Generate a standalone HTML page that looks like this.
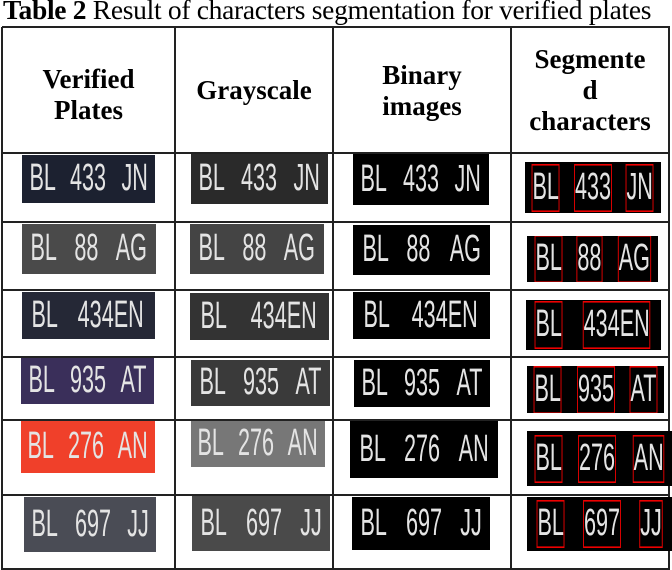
<!DOCTYPE html>
<html><head><meta charset="utf-8"><style>
body{margin:0;width:672px;height:570px;background:#fff;position:relative;overflow:hidden;font-family:"Liberation Serif",serif}
.t{position:absolute;left:3px;top:-6px;font-size:27.5px;white-space:nowrap;letter-spacing:-0.3px}
.v,.h{position:absolute;background:#222}
.v{width:2px;top:27px;height:543px}
.h{height:2px;left:2px;width:668px}
.hd{position:absolute;top:28px;height:125px;display:flex;align-items:center;justify-content:center;text-align:center;font-weight:bold;font-size:27px;line-height:31px;white-space:nowrap}
.p{position:absolute;overflow:hidden;color:#e4e4e4;font-family:"Liberation Sans Narrow","Liberation Sans",sans-serif;display:flex;align-items:center;justify-content:space-around;font-size:24px;font-weight:300}
.p span{display:inline-block;transform:scaleY(1.6) scaleX(0.9)}
</style></head><body>
<div class="t"><b>Table 2</b> Result of characters segmentation for verified plates</div>
<div class="v" style="left:1px"></div>
<div class="v" style="left:174px"></div>
<div class="v" style="left:332px"></div>
<div class="v" style="left:510px"></div>
<div class="v" style="left:668px"></div>
<div class="h" style="top:26px"></div>
<div class="h" style="top:152px"></div>
<div class="h" style="top:221px"></div>
<div class="h" style="top:289px"></div>
<div class="h" style="top:356px"></div>
<div class="h" style="top:419px"></div>
<div class="h" style="top:494px"></div>
<div class="h" style="top:568px"></div>
<div class="hd" style="left:3px;width:171px;padding-top:4px">Verified<br>Plates</div>
<div class="hd" style="left:176px;width:156px">Grayscale</div>
<div class="hd" style="left:334px;width:176px">Binary<br>images</div>
<div class="hd" style="left:512px;width:156px">Segmente<br>d<br>characters</div>
<script>
const labels=[["BL","433","JN"],["BL","88","AG"],["BL","434EN",""],["BL","935","AT"],["BL","276","AN"],["BL","697","JJ"]];
const boxes=[
[[22,155,155,203],[191,328,154,204],[353,489,154,205],[525,661,162,213]],
[[22,156,224,274],[190,324,224,274],[353,490,225,275],[527,658,236,282]],
[[22,155,292,339],[190,329,293,340],[353,490,292,339],[526,661,300,350]],
[[21,154,358,404],[191,330,360,406],[354,490,360,407],[527,664,366,413]],
[[21,155,421,473],[191,325,421,467],[350,498,421,478],[527,672,431,486]],
[[24,156,497,552],[192,330,496,551],[352,490,497,550],[527,672,497,551]]];
const verBg=["#1c2130","#4a4a4a","#252836","#3a2f5a","#f0402a","#4a4c55"];
const grayBg=["#2a2a2a","#444","#333","#3a3a3a","#777","#4a4a4a"];
labels.forEach((lab,r)=>{
  boxes[r].forEach((b,c)=>{
    const d=document.createElement('div');
    d.className='p';
    
    
    const bg=c==0?verBg[r]:c==1?grayBg[r]:'#000';
    d.style.cssText=`left:${b[0]}px;top:${b[2]}px;width:${b[1]-b[0]}px;height:${b[3]-b[2]}px;background:${bg}`;
    lab.filter(s=>s).forEach(s=>{
      const sp=document.createElement('span');
      sp.textContent=s;
      if(c==3){sp.style.outline='1px solid #e00';}
      d.appendChild(sp);
    });
    document.body.appendChild(d);
  });
});
</script>
</body></html>
